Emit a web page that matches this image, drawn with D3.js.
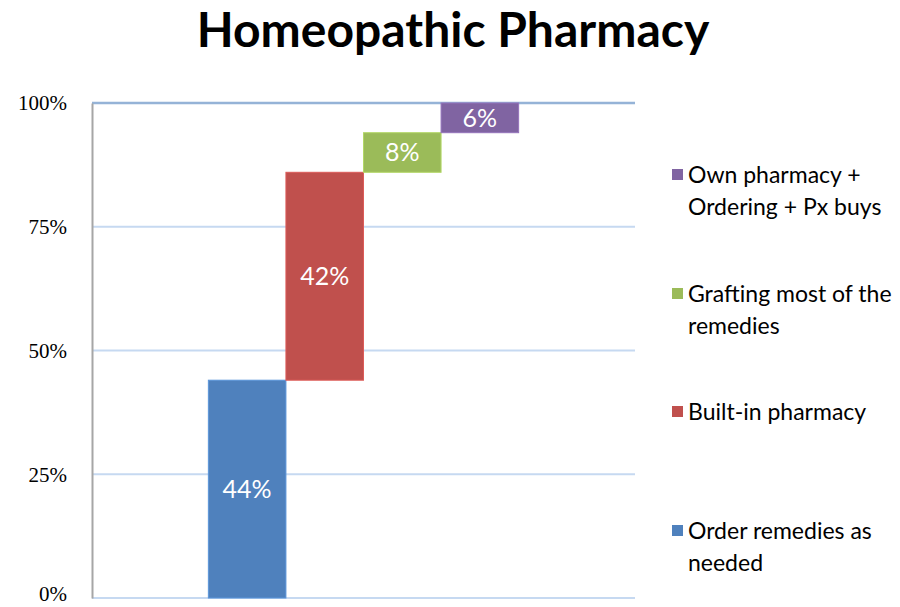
<!DOCTYPE html>
<html><head><meta charset="utf-8">
<script src="https://cdn.jsdelivr.net/npm/d3@7"></script>
<style>body{margin:0;background:#fff}svg{display:block}</style>
</head><body>
<svg id="c" width="900" height="607"></svg>
<script>
const categories = ["Order remedies as needed","Built-in pharmacy","Grafting most of the remedies","Own pharmacy + Ordering + Px buys"];
const values = [44, 42, 8, 6];
const colors = ["#4f81bd","#c0504d","#9bbb59","#8064a2"];
const legendLines = [["Order remedies as","needed"],["Built-in pharmacy"],["Grafting most of the","remedies"],["Own pharmacy +","Ordering + Px buys"]];
const yTicks = [0,25,50,75,100];

const svg = d3.select("#c");
const x = d3.scaleBand().domain(categories).range([92,635]).paddingInner(0).paddingOuter(1.5);
const y = d3.scaleLinear().domain([0,100]).range([598,103]);

svg.append("text").attr("x",453).attr("y",47).attr("text-anchor","middle")
  .attr("font-family","Lato").attr("font-weight","bold").attr("font-size",48).attr("fill","#000")
  .text("Homeopathic Pharmacy");

// gridlines
svg.append("g").selectAll("line").data(yTicks).join("line")
  .attr("x1",92).attr("x2",635).attr("y1",d=>y(d)).attr("y2",d=>y(d))
  .attr("stroke",d=>d===100?"#95b3d7":"#c6d9f1").attr("stroke-width",d=>d===100?2.5:2);

// axis
const ax = svg.append("g").attr("transform","translate(92,0)").call(d3.axisLeft(y).tickValues(yTicks).tickSize(0).tickFormat(d=>d+"%"));
ax.select(".domain").attr("stroke","#a6a6a6").attr("stroke-width",2);
ax.selectAll("text").attr("font-family","Liberation Serif").attr("font-size",21).attr("fill","#000").attr("x",-25)
  .attr("dy",d=>d===0?"0.12em":"0.33em");

// waterfall
let cum = 0;
const rows = values.map((v,i)=>{const r={c:categories[i],v,start:cum,end:cum+v,color:colors[i]};cum+=v;return r;});
svg.append("g").selectAll("rect").data(rows).join("rect")
  .attr("x",d=>x(d.c)).attr("width",x.bandwidth())
  .attr("y",d=>y(d.end)).attr("height",d=>y(d.start)-y(d.end))
  .attr("fill",d=>d.color).attr("stroke",d=>d3.color(d.color).brighter(0.4)).attr("stroke-width",1);
svg.append("g").selectAll("text").data(rows).join("text")
  .attr("x",d=>x(d.c)+x.bandwidth()/2).attr("y",d=>(y(d.start)+y(d.end))/2).attr("dy","0.35em")
  .attr("text-anchor","middle").attr("font-family","Lato").attr("font-size",25).attr("fill","#fff")
  .text(d=>d.v+"%");

// legend
const legY = [531,412,294,175];
const lg = svg.append("g").selectAll("g").data(rows).join("g").attr("transform",(d,i)=>`translate(672,${legY[i]})`);
lg.append("rect").attr("x",0).attr("y",-6).attr("width",11).attr("height",11).attr("fill",d=>d.color);
lg.append("text").attr("font-family","Lato").attr("font-size",23).attr("fill","#000")
  .selectAll("tspan").data((d,i)=>legendLines[i]).join("tspan")
  .attr("x",16).attr("y",(d,j)=>j*32).attr("dy","0.35em").text(d=>d);
</script>
</body></html>
